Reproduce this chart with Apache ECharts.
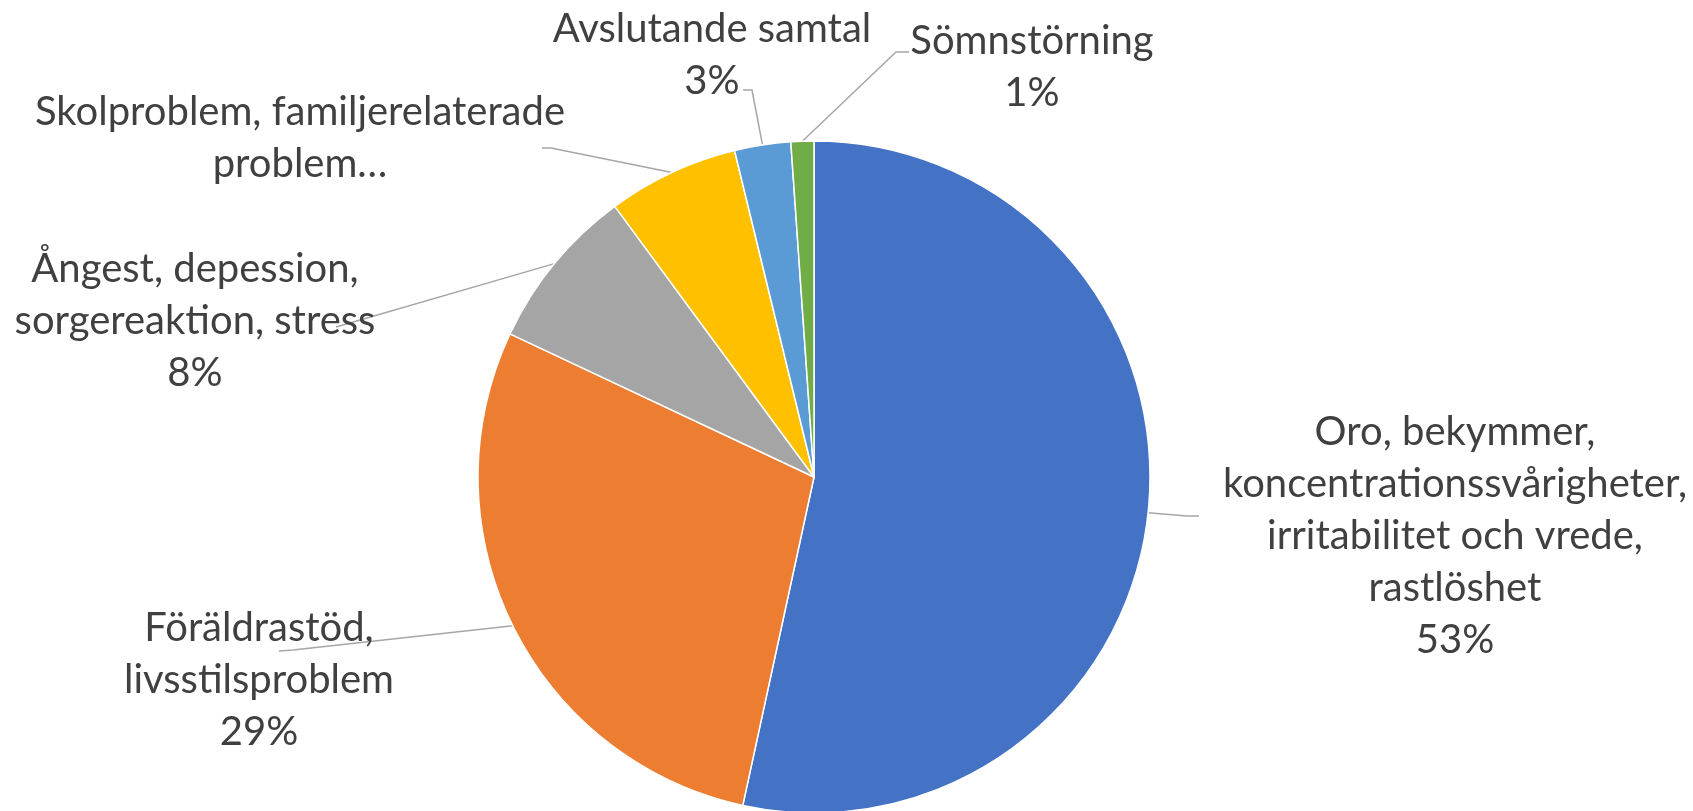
<!DOCTYPE html>
<html>
<head>
<meta charset="utf-8">
<script src="https://cdn.jsdelivr.net/npm/echarts@6/dist/echarts.min.js"></script>
<style>
html, body { margin: 0; padding: 0; background: #fff; }
#pie-chart { width: 1693px; height: 811px; }
</style>
</head>
<body>
<div id="pie-chart"></div>
<script>
// data (percent of all cases)
const categories = [
  'Oro, bekymmer,\nkoncentrationssvårigheter,\nirritabilitet och vrede,\nrastlöshet',
  'Föräldrastöd,\nlivsstilsproblem',
  'Ångest, depession,\nsorgereaktion, stress',
  'Skolproblem, familjerelaterade\nproblem…',
  'Avslutande samtal',
  'Sömnstörning'
]
const values = [53.4, 28.6, 7.9, 6.3, 2.7, 1.1]
// Excel cut the Skolproblem label short, so no percent there
const showPercent = [true, true, true, false, true, true]

const colors = ['#4472C4', '#ED7D31', '#A5A5A5', '#FFC000', '#5B9BD5', '#70AD47']

// where each label sits (text centre) and where its leader line bends / ends
const labelPos = [
  { text: [1455, 536], bend: [1187, 516], end: [1199, 516] },
  { text: [259, 680], bend: [293, 650], end: [279, 651] },
  { text: [195, 321], bend: [336, 327], end: [336, 327] },
  { text: [300, 138], bend: [551, 148], end: [542, 148] },
  { text: [712, 55], bend: [752, 90], end: [743, 90] },
  { text: [1032, 67], bend: [896, 52], end: [909, 52] }
]

const chart = echarts.init(document.getElementById('pie-chart'))

const options = {
  animation: false,
  color: colors,
  series: [
    {
      type: 'pie',
      center: [814, 477],
      radius: 336,
      startAngle: 90,
      clockwise: true,
      avoidLabelOverlap: false,
      emphasis: { disabled: true },
      itemStyle: {
        borderColor: '#fff',
        borderWidth: 1.5
      },
      label: {
        show: true,
        position: 'outside',
        color: '#404040',
        fontFamily: 'Lato',
        fontSize: 40,
        lineHeight: 52,
        formatter: function (p) {
          if (!showPercent[p.dataIndex]) return p.name
          return p.name + '\n' + Math.round(p.percent) + '%'
        }
      },
      labelLine: {
        show: true,
        length: 20,
        length2: 10,
        lineStyle: { color: '#A6A6A6', width: 1.5 }
      },
      labelLayout: function (params) {
        const p = labelPos[params.dataIndex]
        const pts = params.labelLinePoints
        const start = pts ? pts[0] : p.bend
        return {
          x: p.text[0],
          y: p.text[1],
          align: 'center',
          verticalAlign: 'middle',
          labelLinePoints: [start, p.bend, p.end]
        }
      },
      data: categories.map(function (name, i) {
        return { name: name, value: values[i] }
      })
    }
  ]
}

chart.setOption(options)
</script>
</body>
</html>
